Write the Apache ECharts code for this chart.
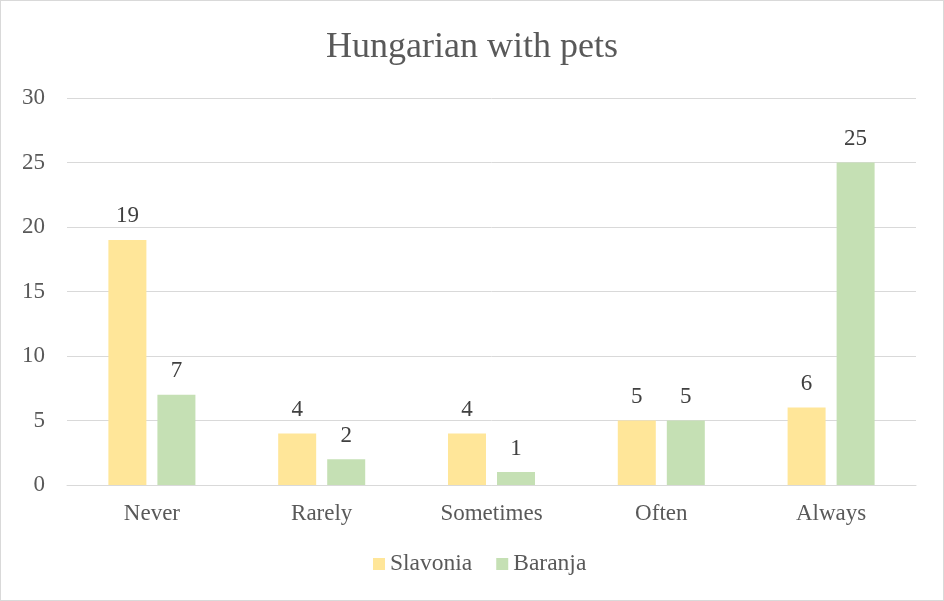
<!DOCTYPE html>
<html>
<head>
<meta charset="utf-8">
<title>Hungarian with pets</title>
<script src="https://cdn.jsdelivr.net/npm/echarts@6/dist/echarts.min.js"></script>
<style>
    html, body { margin: 0; padding: 0; background: #fff; }
    #chart { width: 942px; height: 599px; border: 1px solid #d9d9d9; }
</style>
</head>
<body>
<div id="chart"></div>
<script>
    // 数据
    const categories = ['Never', 'Rarely', 'Sometimes', 'Often', 'Always']
    const slavonia = [19, 4, 4, 5, 6]
    const baranja = [7, 2, 1, 5, 25]
    const yTicks = { min: 0, max: 30, interval: 5 }

    const font = '"Liberation Serif", "Times New Roman", serif'

    const chart = echarts.init(document.getElementById('chart'))

    const label = {
        show: true,
        position: 'top',
        distance: 12,
        color: '#404040',
        fontFamily: font,
        fontSize: 23
    }

    chart.setOption({
        animation: false,
        title: {
            text: 'Hungarian with pets',
            left: 'center',
            top: 24,
            textStyle: { color: '#595959', fontFamily: font, fontSize: 36, fontWeight: 'normal' }
        },
        legend: {
            bottom: 19,
            left: 367,
            itemWidth: 12,
            itemHeight: 12,
            itemGap: 24,
            icon: 'rect',
            textStyle: { color: '#595959', fontFamily: font, fontSize: 23.5 },
            data: ['Slavonia', 'Baranja']
        },
        grid: { left: 66, right: 27, top: 97, bottom: 115 },
        xAxis: {
            type: 'category',
            data: categories,
            axisLine: { lineStyle: { color: '#d9d9d9' } },
            axisTick: { show: false },
            axisLabel: { color: '#595959', fontFamily: font, fontSize: 23, margin: 17 }
        },
        yAxis: {
            type: 'value',
            min: yTicks.min,
            max: yTicks.max,
            interval: yTicks.interval,
            axisLine: { show: false },
            axisTick: { show: false },
            splitLine: { lineStyle: { color: '#d9d9d9' } },
            axisLabel: { color: '#595959', fontFamily: font, fontSize: 23, margin: 22 }
        },
        series: [
            {
                name: 'Slavonia', type: 'bar', data: slavonia,
                itemStyle: { color: '#ffe699' },
                barWidth: 38, barGap: '29%',
                label
            },
            {
                name: 'Baranja', type: 'bar', data: baranja,
                itemStyle: { color: '#c5e0b4' },
                barWidth: 38,
                label
            }
        ]
    })
</script>
</body>
</html>
